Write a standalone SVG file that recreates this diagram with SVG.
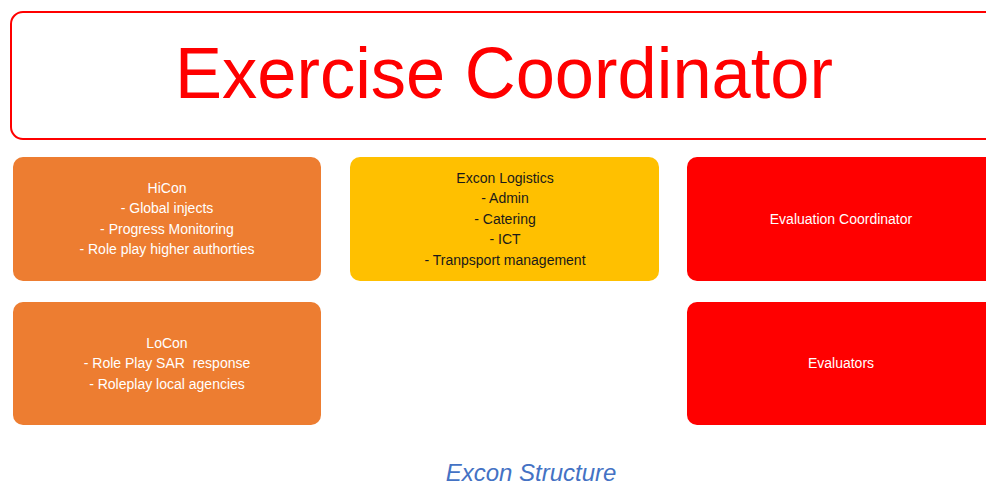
<svg xmlns="http://www.w3.org/2000/svg" width="986" height="487" viewBox="0 0 986 487">
<style>
.box{stroke:none}
.t{font-family:"Liberation Sans",Arial,sans-serif;font-size:14px;text-anchor:middle}
.w{fill:#ffffff}
.k{fill:#1a1a1a}
</style>
<rect width="986" height="487" fill="#ffffff"/>
<g id="exercise-coordinator">
<rect x="11" y="12" width="1000" height="127" rx="12" fill="#ffffff" stroke="#ff0000" stroke-width="2"/>
<text x="504" y="98" font-family="'Liberation Sans',Arial,sans-serif" font-size="72" fill="#ff0000" text-anchor="middle" textLength="658" lengthAdjust="spacingAndGlyphs">Exercise Coordinator</text>
</g>
<g id="hicon">
<rect class="box" x="13" y="157" width="308" height="124" rx="10" fill="#ed7d31"/>
<text class="t w" x="167" y="193">HiCon</text>
<text class="t w" x="167" y="213">- Global injects</text>
<text class="t w" x="167" y="234">- Progress Monitoring</text>
<text class="t w" x="167" y="254">- Role play higher authorties</text>
</g>
<g id="locon">
<rect class="box" x="13" y="302" width="308" height="123" rx="10" fill="#ed7d31"/>
<text class="t w" x="167" y="348">LoCon</text>
<text class="t w" x="167" y="368" xml:space="preserve">- Role Play SAR  response</text>
<text class="t w" x="167" y="389">- Roleplay local agencies</text>
</g>
<g id="excon-logistics">
<rect class="box" x="350" y="157" width="309" height="124" rx="10" fill="#ffc000"/>
<text class="t k" x="505" y="183">Excon Logistics</text>
<text class="t k" x="505" y="203">- Admin</text>
<text class="t k" x="505" y="224">- Catering</text>
<text class="t k" x="505" y="244">- ICT</text>
<text class="t k" x="505" y="265">- Tranpsport management</text>
</g>
<g id="evaluation-coordinator">
<rect class="box" x="687" y="157" width="320" height="124" rx="10" fill="#ff0000"/>
<text class="t w" x="841" y="224">Evaluation Coordinator</text>
</g>
<g id="evaluators">
<rect class="box" x="687" y="302" width="320" height="123" rx="10" fill="#ff0000"/>
<text class="t w" x="841" y="368">Evaluators</text>
</g>
<g id="connectors"></g>
<text x="531" y="481" font-family="'Liberation Sans',Arial,sans-serif" font-size="24" font-style="italic" fill="#4472c4" text-anchor="middle">Excon Structure</text>
</svg>
